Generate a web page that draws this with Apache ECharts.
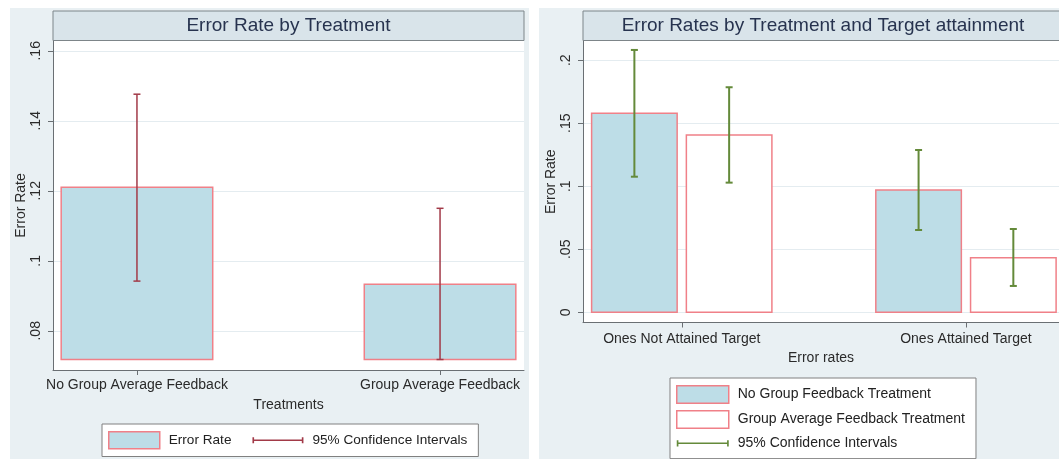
<!DOCTYPE html>
<html><head><meta charset="utf-8">
<script src="https://cdn.jsdelivr.net/npm/echarts@6/dist/echarts.min.js"></script>
<style>html,body{margin:0;padding:0;background:#fff}#c{width:1059px;height:459px}</style>
</head><body><div id="c"></div>
<script>
// ---------- data ----------
const leftTitle = 'Error Rate by Treatment';
const rightTitle = 'Error Rates by Treatment and Target attainment';
const leftCategories = ['No Group Average Feedback', 'Group Average Feedback'];
const leftErrorRate = [0.121, 0.0933];
const leftCiLow = [0.0942, 0.0718];
const leftCiHigh = [0.1476, 0.115];
const leftBarBase = 0.0718;
const leftYTicks = [0.08, 0.10, 0.12, 0.14, 0.16];

const rightCategories = ['Ones Not Attained Target', 'Ones Attained Target'];
const noGroupRate = [0.158, 0.0971];
const groupAvgRate = [0.1407, 0.0433];
const noGroupCiLow = [0.1076, 0.0653];
const noGroupCiHigh = [0.2082, 0.1288];
const groupAvgCiLow = [0.1029, 0.0209];
const groupAvgCiHigh = [0.1786, 0.0661];
const rightBarBase = 0;
const rightYTicks = [0, 0.05, 0.10, 0.15, 0.20];

// ---------- styles ----------
const FONT = "'Liberation Sans', Arial, sans-serif";
const BAR_FILL = '#bddde7';
const BAR_STROKE = '#f08088';
const CI_RED = '#a23a48';
const CI_GREEN = '#648a3a';
const AXIS_COLOR = '#6a6f73';
const GRID_COLOR = '#e4ecf0';
const PANEL_BG = '#e9f0f3';
const TITLE_BG = '#d9e4ea';

function fmtTick(v) {
  return (+(+v).toFixed(4)).toString().replace(/^0\./, '.');
}

function barItem(offset, width, base, fill, stroke) {
  return function (params, api) {
    const x = api.value(0);
    const v = api.value(1);
    const p0 = api.coord([x + offset - width / 2, v]);
    const p1 = api.coord([x + offset + width / 2, base]);
    return {
      type: 'rect',
      shape: { x: p0[0], y: p0[1], width: p1[0] - p0[0], height: p1[1] - p0[1] },
      style: { fill: fill, stroke: stroke, lineWidth: 1.5 }
    };
  };
}

function ciItem(offset, color, lw) {
  return function (params, api) {
    const x = api.value(0) + offset;
    const lo = api.coord([x, api.value(1)]);
    const hi = api.coord([x, api.value(2)]);
    const h = 3.5;
    const st = { stroke: color, lineWidth: lw };
    return {
      type: 'group',
      children: [
        { type: 'line', shape: { x1: lo[0], y1: lo[1], x2: hi[0], y2: hi[1] }, style: st },
        { type: 'line', shape: { x1: lo[0] - h, y1: lo[1], x2: lo[0] + h, y2: lo[1] }, style: st },
        { type: 'line', shape: { x1: hi[0] - h, y1: hi[1], x2: hi[0] + h, y2: hi[1] }, style: st }
      ]
    };
  };
}

const ciIcon = 'path://M0,0 L0.01,0 L0,0.01 Z M50,16 L49.99,16 L50,15.99 Z ' +
  'M0,5 L1.6,5 L1.6,7.3 L48.4,7.3 L48.4,5 L50,5 L50,11 L48.4,11 L48.4,8.7 L1.6,8.7 L1.6,11 L0,11 Z';

const leftBars = leftErrorRate.map((v, i) => [i + 1, v]);
const leftCi = leftCiLow.map((v, i) => [i + 1, v, leftCiHigh[i]]);
const rBars1 = noGroupRate.map((v, i) => [i + 1, v]);
const rBars2 = groupAvgRate.map((v, i) => [i + 1, v]);
const rCi1 = noGroupCiLow.map((v, i) => [i + 1, v, noGroupCiHigh[i]]);
const rCi2 = groupAvgCiLow.map((v, i) => [i + 1, v, groupAvgCiHigh[i]]);

function yAxisCfg(gridIndex, min, max, ticks) {
  return {
    type: 'value', gridIndex: gridIndex, min: min, max: max,
    name: 'Error Rate', nameLocation: 'middle', nameGap: 25,
    nameTextStyle: { fontSize: 14, color: '#2a2a2a', fontFamily: FONT },
    axisLine: { show: true, lineStyle: { color: AXIS_COLOR, width: 1 } },
    axisTick: { show: true, length: 5, customValues: ticks, lineStyle: { color: AXIS_COLOR } },
    axisLabel: { customValues: ticks, rotate: 90, margin: 10, fontSize: 14, color: '#2a2a2a', fontFamily: FONT, formatter: fmtTick },
    splitLine: { show: true, lineStyle: { color: GRID_COLOR, width: 1 } }
  };
}

function xAxisCfg(gridIndex, min, max, cats, name, labelMargin, nameGap) {
  return {
    type: 'value', gridIndex: gridIndex, min: min, max: max,
    name: name, nameLocation: 'middle', nameGap: nameGap,
    nameTextStyle: { fontSize: 14, color: '#2a2a2a', fontFamily: FONT },
    axisLine: { show: true, onZero: false, lineStyle: { color: AXIS_COLOR, width: 1 } },
    axisTick: { show: true, length: 5, customValues: [1, 2], lineStyle: { color: AXIS_COLOR } },
    axisLabel: { customValues: [1, 2], margin: labelMargin, fontSize: 14, color: '#2a2a2a', fontFamily: FONT,
      formatter: v => cats[Math.round(v) - 1] || '' },
    splitLine: { show: false }
  };
}

const option = {
  animation: false,
  backgroundColor: '#ffffff',
  graphic: [
    { type: 'rect', z: -10, shape: { x: 10, y: 8, width: 519, height: 451 }, style: { fill: PANEL_BG } },
    { type: 'rect', z: -10, shape: { x: 539, y: 8, width: 520, height: 451 }, style: { fill: PANEL_BG } },
    { type: 'rect', z: 1, shape: { x: 53, y: 11, width: 471, height: 29.5 }, style: { fill: TITLE_BG, stroke: '#7d8589', lineWidth: 1 } },
    { type: 'rect', z: 1, shape: { x: 583, y: 11, width: 490, height: 29.5 }, style: { fill: TITLE_BG, stroke: '#7d8589', lineWidth: 1 } },
    { type: 'text', z: 2, x: 288.5, y: 26, style: { text: leftTitle, align: 'center', verticalAlign: 'middle', fontSize: 19, fontFamily: FONT, fill: '#27334f' } },
    { type: 'text', z: 2, x: 823, y: 26, style: { text: rightTitle, align: 'center', verticalAlign: 'middle', fontSize: 19, fontFamily: FONT, fill: '#27334f' } }
  ],
  grid: [
    { left: 53, top: 41, width: 471, height: 329, show: true, backgroundColor: '#fff', borderWidth: 0 },
    { left: 583, top: 41, width: 476, height: 281.5, show: true, backgroundColor: '#fff', borderWidth: 0 }
  ],
  xAxis: [
    xAxisCfg(0, 0.723, 2.277, leftCategories, 'Treatments', 8, 28),
    xAxisCfg(1, 0.6525, 2.3274, rightCategories, 'Error rates', 10, 26)
  ],
  yAxis: [
    yAxisCfg(0, 0.0688, 0.1628, leftYTicks),
    yAxisCfg(1, -0.0081, 0.2153, rightYTicks)
  ],
  legend: [
    {
      left: 102, top: 424, orient: 'horizontal', selectedMode: false,
      padding: [7, 11, 7, 6], itemWidth: 51, itemHeight: 17, itemGap: 21,
      backgroundColor: '#fff', borderColor: '#808080', borderWidth: 1,
      textStyle: { fontSize: 13.6, color: '#222', fontFamily: FONT, padding: [0, 0, 0, 4] },
      data: [
        { name: 'Error Rate', icon: 'rect', itemStyle: { color: BAR_FILL, borderColor: BAR_STROKE, borderWidth: 1.5 } },
        { name: '95% Confidence Intervals', icon: ciIcon, itemStyle: { color: CI_RED, borderWidth: 0 } }
      ]
    },
    {
      left: 670, top: 378, orient: 'vertical', selectedMode: false,
      padding: [7, 11, 7, 6], itemWidth: 52, itemHeight: 17.5, itemGap: 6,
      backgroundColor: '#fff', borderColor: '#808080', borderWidth: 1,
      textStyle: { fontSize: 14, color: '#222', fontFamily: FONT, padding: [0, 0, 0, 4] },
      data: [
        { name: 'No Group Feedback Treatment', icon: 'rect', itemStyle: { color: BAR_FILL, borderColor: BAR_STROKE, borderWidth: 1.5 } },
        { name: 'Group Average Feedback Treatment', icon: 'rect', itemStyle: { color: '#ffffff', borderColor: BAR_STROKE, borderWidth: 1.5 } },
        { name: '95% Confidence Intervals', icon: ciIcon, itemStyle: { color: CI_GREEN, borderWidth: 0 } }
      ]
    }
  ],
  series: [
    { name: 'Error Rate', type: 'custom', xAxisIndex: 0, yAxisIndex: 0, encode: { x: 0, y: 1 },
      itemStyle: { color: BAR_FILL }, renderItem: barItem(0, 0.5, leftBarBase, BAR_FILL, BAR_STROKE), data: leftBars },
    { name: '95% Confidence Intervals', type: 'custom', xAxisIndex: 0, yAxisIndex: 0, encode: { x: 0, y: [1, 2] },
      itemStyle: { color: CI_RED }, renderItem: ciItem(0, CI_RED, 1.5), data: leftCi, z: 5 },
    { name: 'No Group Feedback Treatment', type: 'custom', xAxisIndex: 1, yAxisIndex: 1, encode: { x: 0, y: 1 },
      itemStyle: { color: BAR_FILL }, renderItem: barItem(-0.1667, 0.301, rightBarBase, BAR_FILL, BAR_STROKE), data: rBars1 },
    { name: 'Group Average Feedback Treatment', type: 'custom', xAxisIndex: 1, yAxisIndex: 1, encode: { x: 0, y: 1 },
      itemStyle: { color: '#fff' }, renderItem: barItem(0.1667, 0.301, rightBarBase, '#ffffff', BAR_STROKE), data: rBars2 },
    { name: '95% Confidence Intervals', type: 'custom', xAxisIndex: 1, yAxisIndex: 1, encode: { x: 0, y: [1, 2] },
      itemStyle: { color: CI_GREEN }, renderItem: ciItem(-0.1667, CI_GREEN, 2), data: rCi1, z: 5 },
    { name: '95% Confidence Intervals', type: 'custom', xAxisIndex: 1, yAxisIndex: 1, encode: { x: 0, y: [1, 2] },
      itemStyle: { color: CI_GREEN }, renderItem: ciItem(0.1667, CI_GREEN, 2), data: rCi2, z: 5 }
  ]
};

const chart = echarts.init(document.getElementById('c'), null, { renderer: 'canvas' });
chart.setOption(option);
</script>
</body></html>
